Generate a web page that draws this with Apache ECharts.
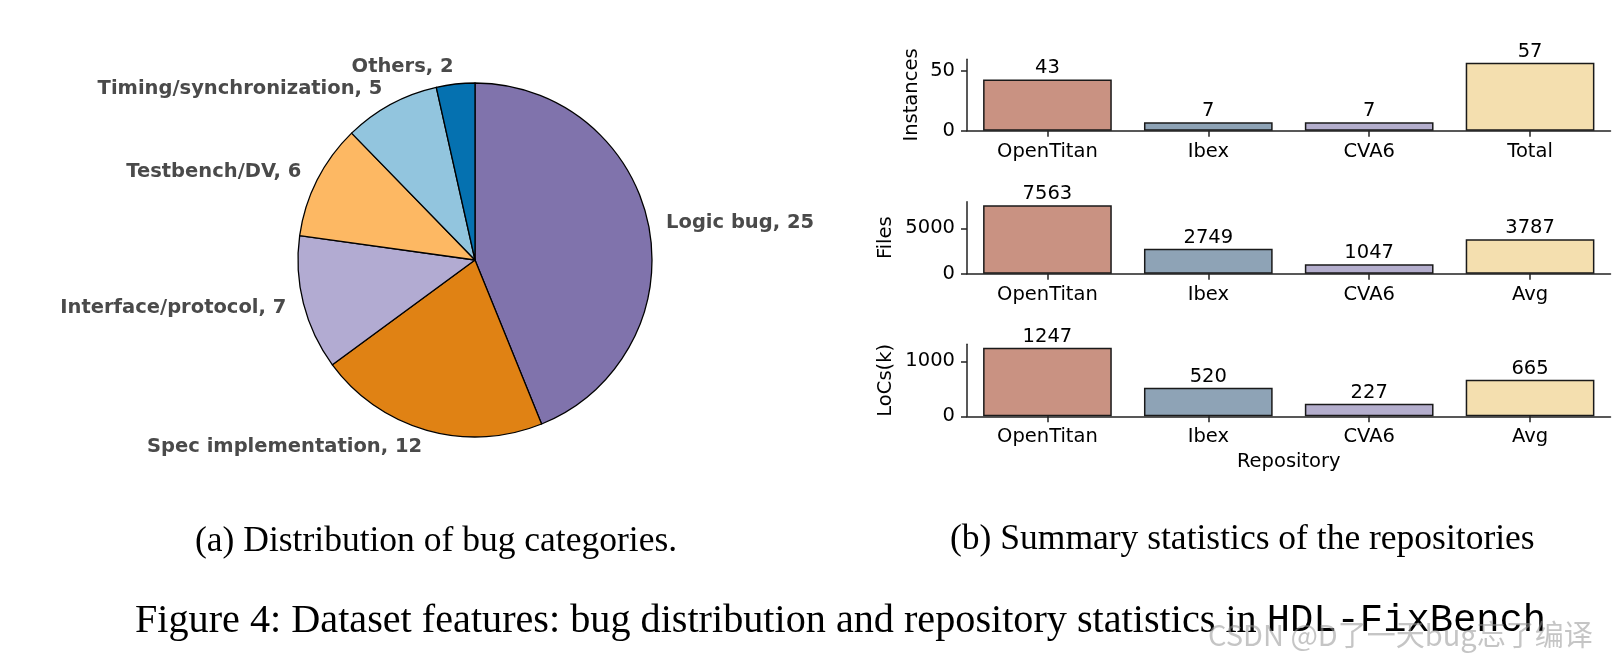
<!DOCTYPE html>
<html>
<head>
<meta charset="utf-8">
<title>Figure 4</title>
<script src="https://cdn.jsdelivr.net/npm/echarts@6.0.0/dist/echarts.min.js"></script>
<style>
  html,body{margin:0;padding:0;background:#fff;}
  #main{width:1623px;height:665px;}
</style>
</head>
<body>
<div id="main"></div>
<script>
// 饼图数据
var pieNames=['Logic bug','Spec implementation','Interface/protocol','Testbench/DV','Timing/synchronization','Others'];
var pieValues=[25,12,7,6,5,2];
// 柱状图类别
var repoTop=['OpenTitan','Ibex','CVA6','Total'];
var repoBottom=['OpenTitan','Ibex','CVA6','Avg'];
// 柱状图数值
var instances=[43,7,7,57];
var files=[7563,2749,1047,3787];
var locs=[1247,520,227,665];
// 刻度
var instTicks=[0,50];
var fileTicks=[0,5000];
var locTicks=[0,1000];

var pieColors=['#8073ac','#e08214','#b2abd2','#fdb863','#92c5de','#0571b0'];
var barColors=['#c99282','#8ea3b6','#b4aecd','#f4dfaf'];
var sans='DejaVu Sans';

var chart=echarts.init(document.getElementById('main'),null,{renderer:'canvas'});

// 饼图的数据项
var pieData=pieNames.map(function(name,i){
  return {name:name,value:pieValues[i],itemStyle:{color:pieColors[i]}};
});

// 柱子的数据项
var barData=function(vals){
  return vals.map(function(v,i){
    return {value:v,itemStyle:{color:barColors[i]}};
  });
};

var grids=[
  {left:967,width:643.5,top:59.3,height:71.4,outerBoundsMode:'none'},
  {left:967,width:643.5,top:201.7,height:72,outerBoundsMode:'none'},
  {left:967,width:643.5,top:344.3,height:72,outerBoundsMode:'none'}
];

var xAxisOf=function(idx,cats,withName){
  var ax={
    type:'category',
    gridIndex:idx,
    data:cats,
    boundaryGap:true,
    axisLine:{show:true,lineStyle:{color:'#222',width:1.5}},
    axisTick:{show:true,alignWithLabel:true,length:6,lineStyle:{color:'#222',width:1.5}},
    axisLabel:{color:'#000',fontSize:19.5,fontFamily:sans,margin:11},
    splitLine:{show:false}
  };
  if(withName){
    ax.name='Repository';
    ax.nameLocation='middle';
    ax.nameGap=36;
    ax.nameTextStyle={color:'#000',fontSize:19.5,fontFamily:sans};
  }
  return ax;
};

var yAxisOf=function(idx,name,ticks,gap){
  return {
    type:'value',
    gridIndex:idx,
    min:0,
    max:function(v){return v.max*1.05;},
    name:name,
    nameLocation:'middle',
    nameGap:gap,
    nameTextStyle:{color:'#000',fontSize:19.5,fontFamily:sans},
    axisLine:{show:true,lineStyle:{color:'#222',width:1.5}},
    axisTick:{show:true,length:6,customValues:ticks,lineStyle:{color:'#222',width:1.5}},
    axisLabel:{
      color:'#000',fontSize:19.5,fontFamily:sans,margin:12,customValues:ticks,
      formatter:function(v){return String(v);}
    },
    splitLine:{show:false}
  };
};

var barSeries=function(idx,vals){
  return {
    type:'bar',
    xAxisIndex:idx,
    yAxisIndex:idx,
    data:barData(vals),
    barCategoryGap:'20%',
    itemStyle:{borderColor:'#1a1a1a',borderWidth:1.5},
    label:{show:true,position:'top',distance:1,color:'#000',fontSize:19.5,fontFamily:sans},
    emphasis:{disabled:true},
    silent:true
  };
};

chart.setOption({
  animation:false,
  backgroundColor:'#fff',
  textStyle:{fontFamily:sans},
  grid:grids,
  xAxis:[xAxisOf(0,repoTop,false),xAxisOf(1,repoBottom,false),xAxisOf(2,repoBottom,true)],
  yAxis:[yAxisOf(0,'Instances',instTicks,45),yAxisOf(1,'Files',fileTicks,71),yAxisOf(2,'LoCs(k)',locTicks,71)],
  series:[
    {
      type:'pie',
      center:[475,260],
      radius:177,
      startAngle:90,
      clockwise:true,
      avoidLabelOverlap:false,
      data:pieData,
      itemStyle:{borderColor:'#000',borderWidth:1.3},
      label:{
        show:true,
        position:'outside',
        formatter:'{b}, {c}',
        color:'#4a4a4a',
        fontSize:19.5,
        fontWeight:'bold',
        fontFamily:sans,
        distanceToLabelLine:0
      },
      labelLine:{show:false,length:17.7,length2:0},
      emphasis:{disabled:true},
      silent:true
    },
    barSeries(0,instances),
    barSeries(1,files),
    barSeries(2,locs)
  ],
  graphic:[
    {
      type:'text',left:195,top:524,
      style:{text:'(a) Distribution of bug categories.',font:'35.5px "Liberation Serif"',fill:'#000'}
    },
    {
      type:'text',left:950,top:522,
      style:{text:'(b) Summary statistics of the repositories',font:'35.5px "Liberation Serif"',fill:'#000'}
    },
    {
      type:'text',left:135,top:601,
      style:{
        text:'{s|Figure 4: Dataset features: bug distribution and repository statistics in }{m|HDL-FixBench}',
        rich:{
          s:{fontFamily:'Liberation Serif',fontSize:40.2,fill:'#000'},
          m:{fontFamily:'Liberation Mono',fontSize:38.8,fill:'#000'}
        }
      }
    },
    {
      type:'text',left:1208,top:620,z:100,
      style:{text:'CSDN @D了一天bug忘了编译',font:'29px "Noto Sans CJK SC"',fill:'rgba(150,150,150,0.55)'}
    }
  ]
});
</script>
</body>
</html>
